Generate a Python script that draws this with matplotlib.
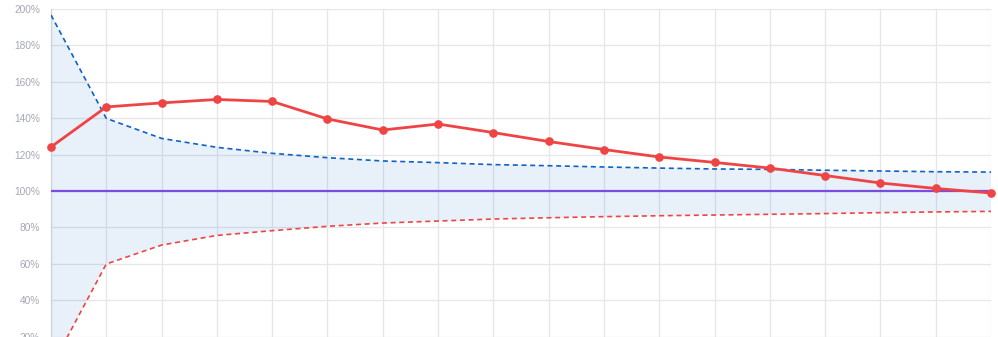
import matplotlib
matplotlib.use("Agg")
import matplotlib.pyplot as plt
from matplotlib.ticker import FuncFormatter

periods = list(range(18))
actual = [124.2, 146.2, 148.4, 150.3, 149.2, 139.6, 133.5, 136.8, 132.1, 127.2,
          122.8, 118.7, 115.7, 112.6, 108.5, 104.4, 101.4, 98.9]
upper = [196.7, 139.9, 128.9, 124.0, 120.7, 118.3, 116.5, 115.6, 114.5, 113.9,
         113.2, 112.6, 112.1, 111.9, 111.4, 111.0, 110.6, 110.4]
lower = [3.0, 59.9, 70.3, 75.6, 78.2, 80.6, 82.4, 83.5, 84.6, 85.3,
         85.9, 86.4, 86.8, 87.2, 87.6, 88.1, 88.5, 88.8]
baseline = [100.0] * 18
y_ticks = [20, 40, 60, 80, 100, 120, 140, 160, 180, 200]

W, H = 998, 337
fig = plt.figure(figsize=(W / 100, H / 100), dpi=100)
ax = fig.add_axes([51 / W, 0, (991 - 51) / W, (337 - 9) / H])

ax.fill_between(periods, lower, upper, color="#1565c0", alpha=0.095, linewidth=0, zorder=1)
ax.plot(periods, upper, color="#0d62c2", lw=1.2, ls=(0, (3, 2.2)), zorder=3)
ax.plot(periods, lower, color="#ef4444", lw=1.2, ls=(0, (3, 2.2)), zorder=3)
ax.plot(periods, baseline, color="#7b4ce0", lw=1.6, zorder=4)
ax.plot(periods, actual, color="#ef4444", lw=2.0, marker="o", ms=5.2,
        zorder=5, clip_on=False)

ax.set_xlim(0, 17)
ax.set_ylim(100 - (337 - 191) / 1.82, 200)
ax.set_yticks(y_ticks)
ax.yaxis.set_major_formatter(FuncFormatter(lambda v, p: f"{v:.0f}%"))
ax.set_xticks(periods)
ax.set_xticklabels([])
ax.grid(True, color="#e4e6ea", lw=0.9, zorder=0)
ax.set_axisbelow(True)
ax.tick_params(axis="y", length=0, pad=8, labelsize=7.3, labelcolor="#a3a8b6")
for lab in ax.get_yticklabels():
    lab.set_fontfamily("Liberation Sans")
ax.tick_params(axis="x", length=0)
for s in ["top", "right", "bottom"]:
    ax.spines[s].set_visible(False)
ax.spines["left"].set_color("#cfd3da")
ax.spines["left"].set_linewidth(0.9)

fig.savefig("out.png", dpi=100)
